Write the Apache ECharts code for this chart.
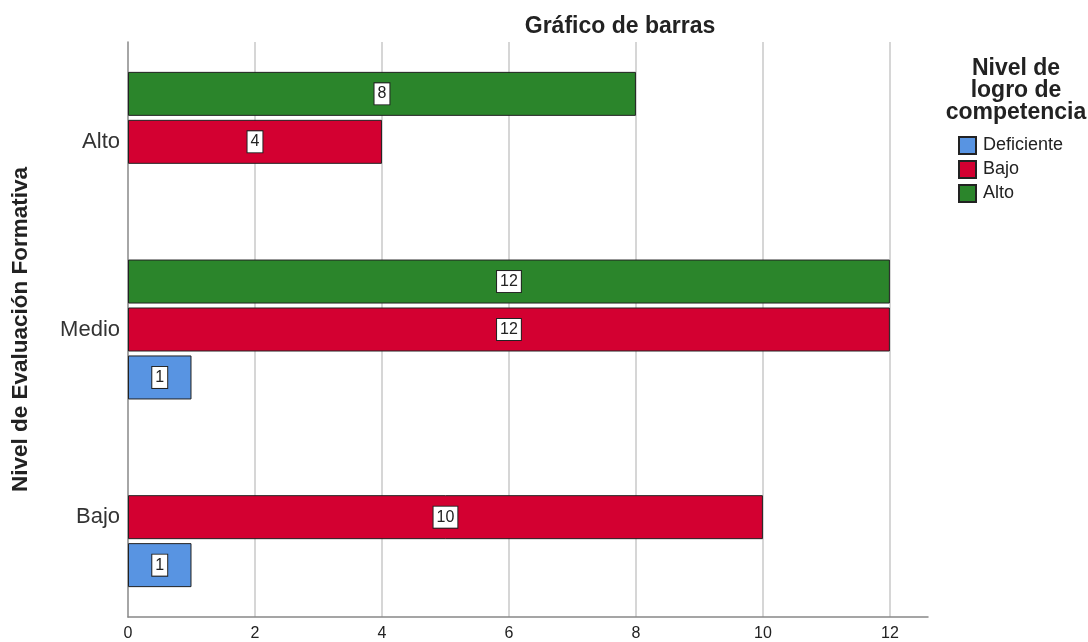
<!DOCTYPE html>
<html>
<head>
<meta charset="utf-8">
<script src="https://cdn.jsdelivr.net/npm/echarts@6/dist/echarts.min.js"></script>
<style>
  html, body { margin: 0; padding: 0; background: #fff; }
  #chart { width: 1088px; height: 642px; }
</style>
</head>
<body>
<div id="chart"></div>
<script>
// categories bottom -> top
const niveles = ['Bajo', 'Medio', 'Alto'];
const serieNames = ['Deficiente', 'Bajo', 'Alto'];
const deficiente = [1, 1, null];
const bajo = [10, 12, 4];
const alto = [null, 12, 8];
const colores = ['#5894e2', '#d30031', '#2b852b'];

const fontFamily = '"Liberation Sans", Arial, sans-serif';

function barSerie(name, data, color) {
  return {
    name: name,
    type: 'bar',
    xAxisIndex: 0,
    yAxisIndex: 0,
    data: data,
    barWidth: 44,
    barGap: '9%',
    itemStyle: { color: color, borderColor: '#222', borderWidth: 1 },
    label: {
      show: true,
      position: 'inside',
      color: '#222',
      fontSize: 16,
      fontFamily: fontFamily,
      backgroundColor: '#fff',
      borderColor: '#222',
      borderWidth: 1,
      padding: [3, 3, 2, 3]
    }
  };
}

const chart = echarts.init(document.getElementById('chart'));
const option = {
  animation: false,
  textStyle: { fontFamily: fontFamily },
  title: [
    {
      text: 'Gráfico de barras',
      left: 615,
      top: 10,
      textAlign: 'center',
      textStyle: { fontSize: 23, fontWeight: 'bold', color: '#222', fontFamily: fontFamily }
    },
    {
      text: 'Nivel de\nlogro de\ncompetencia',
      left: 1011,
      top: 53,
      textAlign: 'center',
      textStyle: { fontSize: 23, fontWeight: 'bold', color: '#222', lineHeight: 22, fontFamily: fontFamily, align: 'center' }
    }
  ],
  legend: {
    data: serieNames,
    orient: 'vertical',
    left: 958,
    top: 136,
    padding: 0,
    icon: 'rect',
    itemWidth: 17,
    itemHeight: 17,
    itemGap: 5,
    textStyle: { fontSize: 18, color: '#222', padding: [0, 0, 0, 2] }
  },
  // grid 0 holds the bars, grid 1 draws the frame and gridlines a bit larger
  grid: [
    { left: 128, right: 160, top: 48, bottom: 31 },
    { left: 128, right: 160, top: 42, bottom: 25 }
  ],
  xAxis: [
    {
      type: 'value', gridIndex: 0, min: 0, max: 12.6, show: false,
      splitLine: { show: false }
    },
    {
      type: 'value', gridIndex: 1, min: 0, max: 12.6, interval: 2,
      axisLine: { show: true, lineStyle: { color: '#888', width: 1.5 } },
      axisTick: { show: false },
      axisLabel: { showMaxLabel: false, fontSize: 16, color: '#222', margin: 9 },
      splitLine: { show: true, showMinLine: false, showMaxLine: false, lineStyle: { color: '#c8c8c8', width: 1.5 } }
    }
  ],
  yAxis: [
    {
      type: 'category',
      gridIndex: 0,
      data: niveles,
      name: 'Nivel de Evaluación Formativa',
      nameLocation: 'middle',
      nameRotate: 90,
      nameGap: 96,
      nameTextStyle: { fontSize: 22.5, fontWeight: 'bold', color: '#222' },
      axisLine: { show: false },
      axisTick: { show: false },
      axisLabel: { fontSize: 22, color: '#333', margin: 8, padding: [9, 0, 0, 0] },
      splitLine: { show: false }
    },
    {
      type: 'value',
      gridIndex: 1,
      min: 0,
      max: 1,
      axisLine: { show: true, lineStyle: { color: '#888', width: 1.5 } },
      axisTick: { show: false },
      axisLabel: { show: false },
      splitLine: { show: false }
    }
  ],
  // first series is drawn at the top of each band
  series: [
    barSerie(serieNames[2], alto, colores[2]),
    barSerie(serieNames[1], bajo, colores[1]),
    barSerie(serieNames[0], deficiente, colores[0])
  ]
};
chart.setOption(option);
</script>
</body>
</html>
